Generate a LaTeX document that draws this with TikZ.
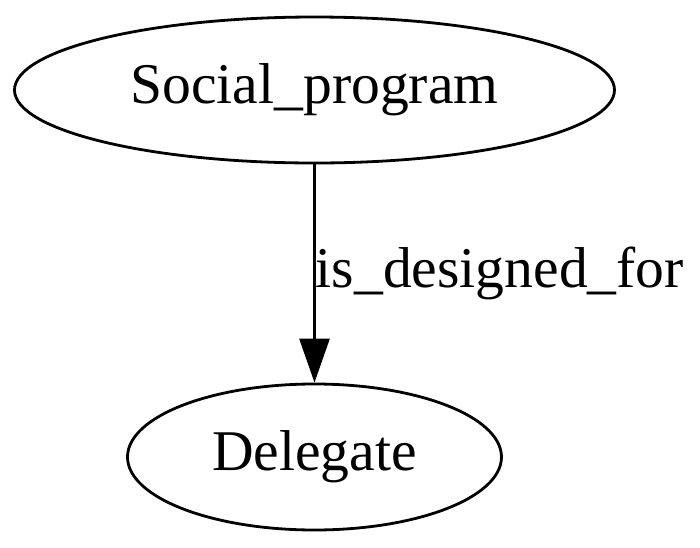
\documentclass[tikz,border=0pt]{standalone}
\usepackage{fontspec}
\setmainfont{Liberation Serif}
\usepackage{tikz}
\usetikzlibrary{arrows.meta,shapes.geometric}

\begin{document}
\begin{tikzpicture}[x=0.25pt, y=-0.25pt,
  obj/.style={draw, ellipse, line width=0.7pt, inner sep=0pt, minimum height=36.5pt, font=\fontsize{14.4}{17}\selectfont},
  arr/.style={-{Triangle[length=11pt, width=7.5pt]}, line width=0.7pt}]
  \useasboundingbox (0,0) rectangle (700,548);

  % Nodes
  \node[obj, minimum width=150pt] (social) at (314.5, 90) {Social\_program};
  \node[obj, minimum width=93.5pt] (delegate) at (314.5, 457) {Delegate};

  % Edge
  \draw[arr] (social) -- (delegate)
    node[midway, right, inner sep=0pt, font=\fontsize{14.4}{17}\selectfont] {is\_designed\_for};
\end{tikzpicture}
\end{document}
